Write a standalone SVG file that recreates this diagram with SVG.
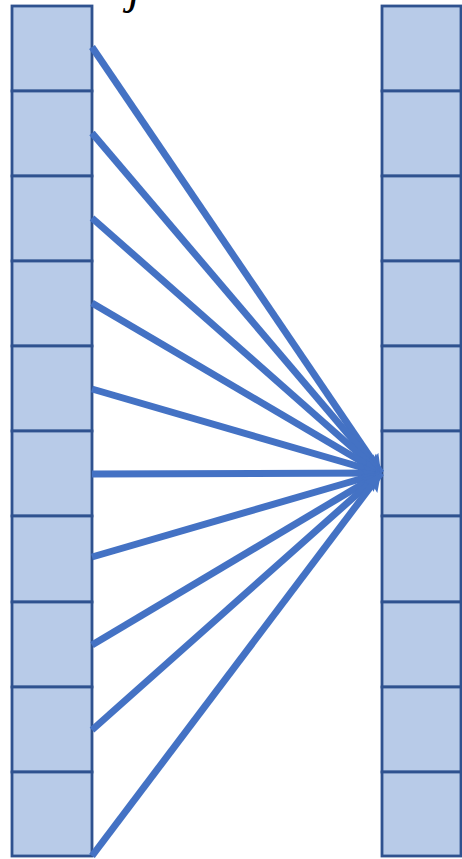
<svg xmlns="http://www.w3.org/2000/svg" width="462" height="859" viewBox="0 0 462 859">
<style>
.cell{fill:#B8CBE8;stroke:#2F528F;stroke-width:2.8}
.ln{stroke:#4472C4;stroke-width:7;fill:none;marker-end:url(#ah)}
</style>
<defs>
<marker id="ah" viewBox="0 0 10 10" refX="10" refY="5" markerWidth="3.2" markerHeight="2.6" orient="auto" markerUnits="strokeWidth">
<path d="M0,0 L10,5 L0,10 L2,5 Z" fill="#4472C4"/>
</marker>
</defs>
<rect width="462" height="859" fill="#fff"/>
<text x="128" y="3" font-family="Liberation Serif, serif" font-style="italic" font-size="48" fill="#000">j</text>
<g id="left">
<rect class="cell" x="12" y="6" width="80" height="85"/>
<rect class="cell" x="12" y="91" width="80" height="85"/>
<rect class="cell" x="12" y="176" width="80" height="85"/>
<rect class="cell" x="12" y="261" width="80" height="85"/>
<rect class="cell" x="12" y="346" width="80" height="85"/>
<rect class="cell" x="12" y="431" width="80" height="85"/>
<rect class="cell" x="12" y="516" width="80" height="86"/>
<rect class="cell" x="12" y="602" width="80" height="85"/>
<rect class="cell" x="12" y="687" width="80" height="85"/>
<rect class="cell" x="12" y="772" width="80" height="84"/>
</g>
<g id="right">
<rect class="cell" x="382" y="6" width="79" height="85"/>
<rect class="cell" x="382" y="91" width="79" height="85"/>
<rect class="cell" x="382" y="176" width="79" height="85"/>
<rect class="cell" x="382" y="261" width="79" height="85"/>
<rect class="cell" x="382" y="346" width="79" height="85"/>
<rect class="cell" x="382" y="431" width="79" height="85"/>
<rect class="cell" x="382" y="516" width="79" height="86"/>
<rect class="cell" x="382" y="602" width="79" height="85"/>
<rect class="cell" x="382" y="687" width="79" height="85"/>
<rect class="cell" x="382" y="772" width="79" height="84"/>
</g>
<g id="connectors">
<line class="ln" x1="92" y1="47" x2="381" y2="473"/>
<line class="ln" x1="92" y1="133" x2="381" y2="473"/>
<line class="ln" x1="92" y1="218" x2="381" y2="473"/>
<line class="ln" x1="92" y1="303" x2="381" y2="473"/>
<line class="ln" x1="92" y1="389" x2="381" y2="473"/>
<line class="ln" x1="92" y1="474" x2="381" y2="473"/>
<line class="ln" x1="92" y1="557" x2="381" y2="473"/>
<line class="ln" x1="92" y1="645" x2="381" y2="473"/>
<line class="ln" x1="92" y1="730" x2="381" y2="473"/>
<line class="ln" x1="92" y1="856" x2="381" y2="473"/>
</g>
</svg>
